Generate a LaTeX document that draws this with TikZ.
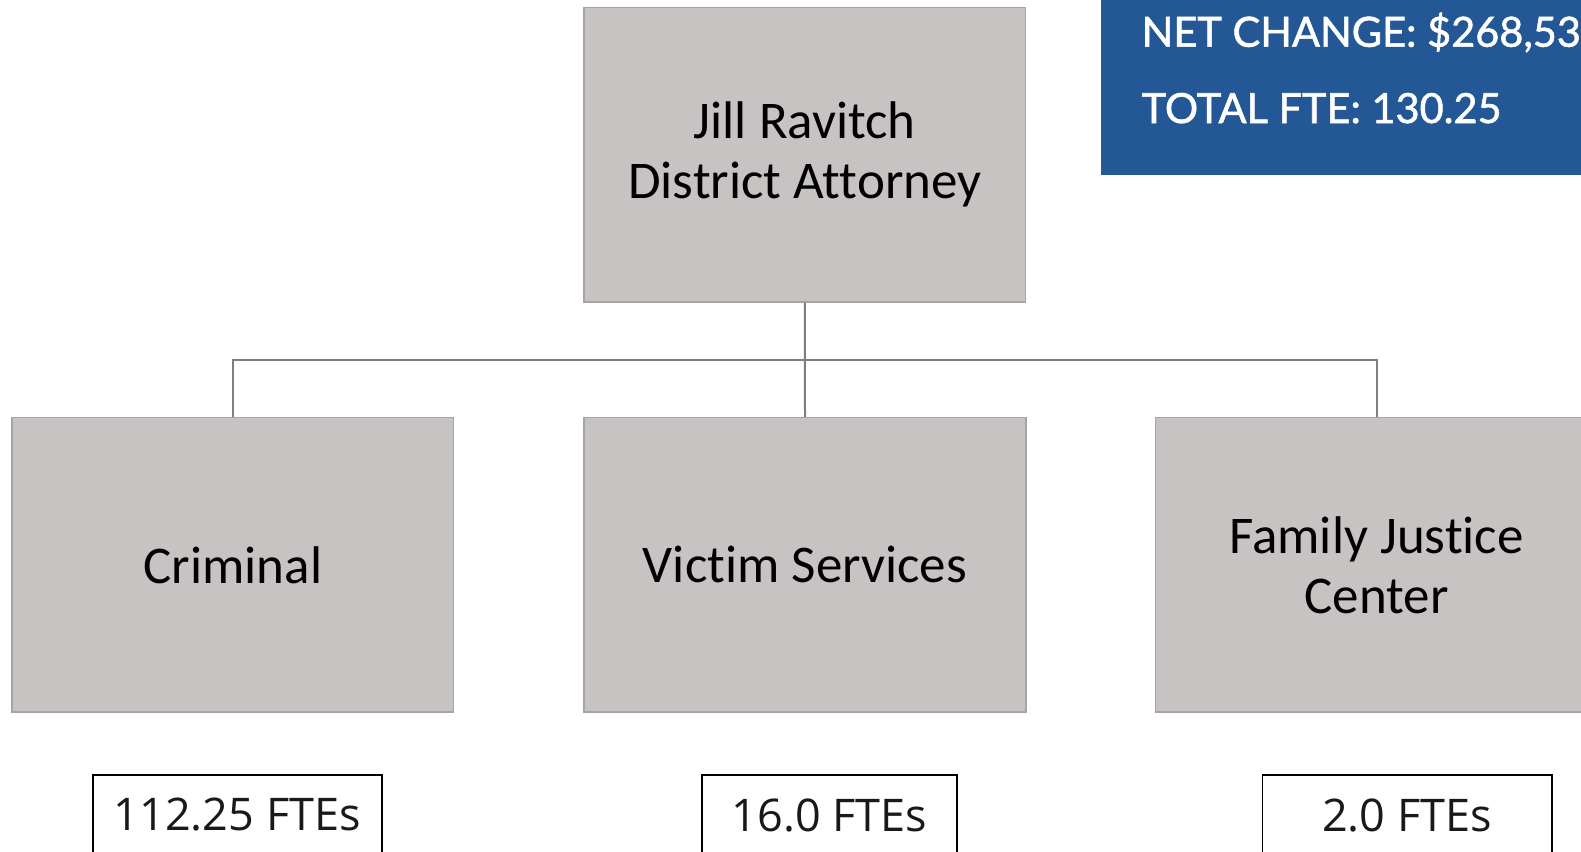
\documentclass[tikz,border=0pt]{standalone}
\usepackage{fontspec}
\setmainfont{Carlito}[Ligatures=NoCommon]
\newfontfamily\ftefont{Open Sans}
\newfontfamily\bluefont{Lato}[FakeBold=1.4]
\definecolor{boxgray}{HTML}{C8C3C3}
\definecolor{boxedge}{HTML}{A8A4A4}
\definecolor{linegray}{HTML}{7F7F7F}
\definecolor{bannerblue}{HTML}{245795}
\tikzset{
  orgbox/.style={draw=boxedge, line width=1.5pt, fill=boxgray, minimum width=441.6pt, minimum height=294.5pt, align=center, inner sep=0pt, font=\fontsize{53}{60}\selectfont, text=black},
  ftebox/.style={draw=black, line width=1.6pt, fill=white, minimum height=80pt, inner sep=0pt, font=\ftefont\fontsize{45}{54}\selectfont, text=black!90},
  conn/.style={draw=linegray, line width=2pt},
  bluetext/.style={anchor=base west, inner sep=0pt, text=white, font=\bluefont\fontsize{41.5}{50}\selectfont}
}
\begin{document}
\begin{tikzpicture}[x=1pt,y=-1pt]
\useasboundingbox (0,0) rectangle (1581,851);
\clip (0,0) rectangle (1581,851);
\fill[white] (0,0) rectangle (1581,851);
% banner
\fill[bannerblue] (1101,-10) rectangle (1600,174.7);
\node[bluetext] (net) at (1141.5,46.7) {NET CHANGE: \$268,53};
\node[bluetext] (tot) at (1141.5,123) {TOTAL FTE: 130.25};
% boxes
\node[orgbox] (top) at (804.8,154.7) {Jill Ravitch\\District Attorney};
\node[orgbox] (crim) at (232.9,564.8) {Criminal};
\node[orgbox] (vic) at (805,564.8) {Victim Services};
\node[orgbox] (fam) at (1376.5,564.8) {Family Justice\\Center};
% connectors
\coordinate (bus) at (805,360);
\draw[conn] (top.south) -- (vic.north);
\draw[conn] (crim.north) |- (bus) -| (fam.north);
% FTE boxes
\node[ftebox, minimum width=289pt] (f1) at (237.2,815) {112.25 FTEs};
\node[ftebox, minimum width=255pt] (f2) at (829.3,815) {16.0 FTEs};
\node[ftebox, minimum width=289.4pt] (f3) at (1407,815) {2.0 FTEs};
\end{tikzpicture}
\end{document}
